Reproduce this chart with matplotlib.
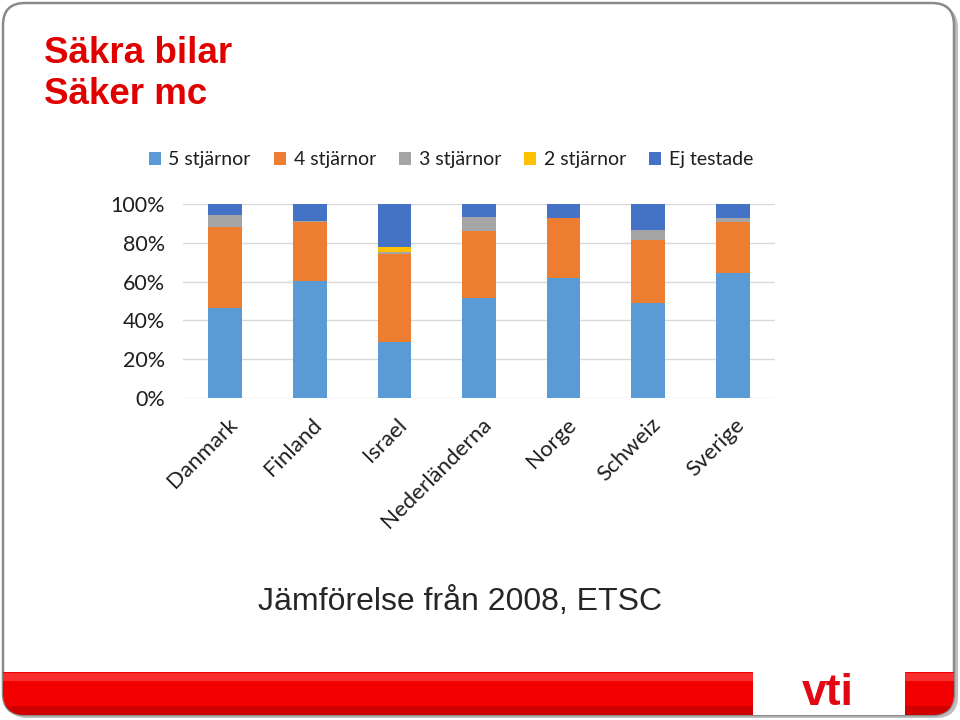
import matplotlib.pyplot as plt
import matplotlib.transforms as mtransforms
from matplotlib.patches import FancyBboxPatch, Rectangle
import numpy as np

# data (share of tested cars, per country)
countries = ['Danmark', 'Finland', 'Israel', 'Nederländerna', 'Norge', 'Schweiz', 'Sverige']
series_names = ['5 stjärnor', '4 stjärnor', '3 stjärnor', '2 stjärnor', 'Ej testade']
five_star = [0.462, 0.603, 0.289, 0.513, 0.619, 0.489, 0.643]
four_star = [0.418, 0.303, 0.455, 0.349, 0.309, 0.328, 0.266]
three_star = [0.062, 0.005, 0.008, 0.071, 0.000, 0.051, 0.017]
two_star = [0.000, 0.000, 0.026, 0.000, 0.000, 0.000, 0.000]
not_tested = [0.058, 0.089, 0.222, 0.067, 0.072, 0.132, 0.074]

colors = ['#5B9BD5', '#ED7D31', '#A5A5A5', '#FFC000', '#4472C4']

fig = plt.figure(figsize=(9.6, 7.2), dpi=100)

# slide background / frame
bg = fig.add_axes([0, 0, 1, 1])
bg.set_xlim(0, 960)
bg.set_ylim(720, 0)
bg.axis('off')

shadow = FancyBboxPatch((6, 6), 952, 712, boxstyle='round,pad=0,rounding_size=22',
                        facecolor='#BDBDBD', edgecolor='none')
bg.add_patch(shadow)
frame = FancyBboxPatch((3, 3), 951, 712, boxstyle='round,pad=0,rounding_size=22',
                       facecolor='white', edgecolor='#8A8A8A', linewidth=1.8)
bg.add_patch(frame)

# red banner at the bottom
banner = Rectangle((0, 672), 960, 50, facecolor='#F20000', edgecolor='none')
bg.add_patch(banner)
banner.set_clip_path(frame)
gloss = Rectangle((0, 673), 960, 8, facecolor='#FF5050', edgecolor='none', alpha=0.6)
bg.add_patch(gloss)
gloss.set_clip_path(frame)
dark = Rectangle((0, 706), 960, 12, facecolor='#B00000', edgecolor='none', alpha=0.5)
bg.add_patch(dark)
dark.set_clip_path(frame)
logo_box = Rectangle((753, 668), 152, 52, facecolor='white', edgecolor='none')
bg.add_patch(logo_box)
logo_box.set_clip_path(frame)
bg.text(828, 705, 'vti', color='#E30613', fontsize=32, fontweight='bold',
        family='Liberation Sans', ha='center', va='baseline')

# title and subtitle
bg.text(44, 63, 'Säkra bilar', color='#E00000', fontsize=26.5, fontweight='bold',
        family='Liberation Sans', va='baseline')
bg.text(44, 104, 'Säker mc', color='#E00000', fontsize=26.5, fontweight='bold',
        family='Liberation Sans', va='baseline')
bg.text(258, 610, 'Jämförelse från 2008, ETSC', color='#262626', fontsize=23,
        family='Liberation Sans', va='baseline')

# the chart
ax = fig.add_axes([183 / 960, 1 - 398 / 720, 592 / 960, 194 / 720])
x = np.arange(len(countries))
bottom = np.zeros(len(countries))
handles = []
for name, vals, c in zip(series_names, [five_star, four_star, three_star, two_star, not_tested], colors):
    b = ax.bar(x, vals, width=0.4, bottom=bottom, color=c, label=name, zorder=3)
    handles.append(b)
    bottom += np.array(vals)

ax.set_xlim(-0.5, len(countries) - 0.5)
ax.set_ylim(0, 1)
ax.set_yticks(np.linspace(0, 1, 6))
ax.set_yticklabels([f'{int(v * 100)}%' for v in np.linspace(0, 1, 6)])
ax.grid(axis='y', color='#D9D9D9', linewidth=1, zorder=0)
for s in ax.spines.values():
    s.set_visible(False)
ax.tick_params(axis='both', length=0, labelcolor='#1E1E1E')
ax.tick_params(axis='y', pad=13, labelsize=15.5)
ax.set_xticks(x)
ax.set_xticklabels(countries, rotation=45, ha='right', rotation_mode='anchor')
ax.tick_params(axis='x', pad=12, labelsize=16)
offset = mtransforms.ScaledTranslation(2 / 100, 0, fig.dpi_scale_trans)
for lbl in ax.get_xticklabels():
    lbl.set_transform(lbl.get_transform() + offset)
for lbl in ax.get_xticklabels() + ax.get_yticklabels():
    lbl.set_family('Lato')

leg = fig.legend(handles=handles, loc='center', bbox_to_anchor=(451 / 960, 1 - 160 / 720),
                 ncol=5, frameon=False, prop={'family': 'Lato', 'size': 14},
                 handlelength=0.6, handleheight=0.6, handletextpad=0.4, columnspacing=1.2)
for t in leg.get_texts():
    t.set_color('#1E1E1E')

fig.savefig('out.png', dpi=100)
